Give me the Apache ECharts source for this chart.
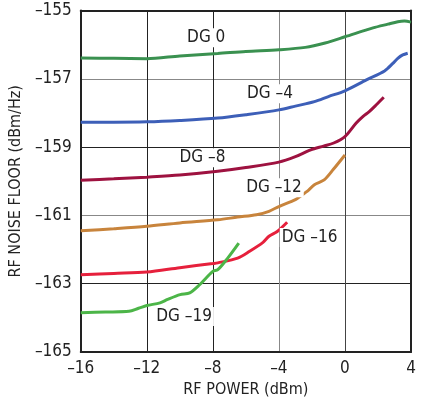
<!DOCTYPE html>
<html><head><meta charset="utf-8">
<script src="https://cdn.jsdelivr.net/npm/echarts@6/dist/echarts.min.js"></script>
<style>html,body{margin:0;padding:0;background:#fff}#c{width:424px;height:404px}</style>
</head><body><div id="c"></div>
<script>
const xTicks = [-16, -12, -8, -4, 0, 4];
const yTicks = [-165, -163, -161, -159, -157, -155];
const names = ['DG 0', 'DG –4', 'DG –8', 'DG –12', 'DG –16', 'DG –19'];
const colors = ['#3a9150', '#3d5fb8', '#9e1240', '#c8843c', '#e6203c', '#4cb548'];
const dg0 = [[-16,-156.39],[-14,-156.40],[-12,-156.41],[-10,-156.33],[-7.7,-156.26],[-6,-156.20],[-4,-156.15],[-2.4,-156.08],[-1.2,-155.95],[0,-155.77],[1.7,-155.51],[2.6,-155.40],[3.2,-155.33],[3.6,-155.31],[4,-155.34]];
const dg4 = [[-16,-158.27],[-14,-158.27],[-12,-158.26],[-10,-158.22],[-7.7,-158.15],[-6,-158.05],[-4,-157.91],[-3,-157.80],[-1.85,-157.67],[-1,-157.52],[0,-157.35],[1.3,-157.03],[2.4,-156.77],[2.9,-156.55],[3.2,-156.40],[3.5,-156.30],[3.8,-156.25]];
const dg8 = [[-16,-159.97],[-14,-159.93],[-12,-159.88],[-10,-159.82],[-7.7,-159.71],[-6,-159.60],[-4,-159.44],[-3,-159.28],[-2.07,-159.08],[-1.3,-158.97],[-0.68,-158.88],[0,-158.69],[0.67,-158.30],[1.1,-158.10],[1.47,-157.96],[1.9,-157.76],[2.35,-157.54]];
const dg12 = [[-16,-161.45],[-14,-161.39],[-12,-161.32],[-10,-161.22],[-7.7,-161.13],[-6.5,-161.05],[-5.36,-160.98],[-4.6,-160.88],[-4,-160.74],[-3.0,-160.54],[-2.7,-160.44],[-2.2,-160.26],[-1.85,-160.10],[-1.26,-159.96],[-0.7,-159.65],[0,-159.23]];
const dg16 = [[-16,-162.74],[-14,-162.70],[-12,-162.66],[-10,-162.53],[-8,-162.41],[-7.7,-162.39],[-6.5,-162.25],[-5.77,-162.05],[-4.96,-161.79],[-4.6,-161.61],[-4.1,-161.47],[-3.5,-161.20]];
const dg19 = [[-16,-163.85],[-14.5,-163.83],[-13.08,-163.81],[-12.5,-163.72],[-12,-163.64],[-11.2,-163.56],[-10.74,-163.46],[-9.98,-163.32],[-9.4,-163.27],[-8.8,-163.03],[-8,-162.64],[-7.7,-162.59],[-7.1,-162.25],[-6.43,-161.81]];
const labelPos = [[-8.4,-155.80],[-4.54,-157.44],[-8.63,-159.31],[-4.30,-160.19],[-2.14,-161.65],[-9.74,-163.96]];
const seriesData = [dg0, dg4, dg8, dg12, dg16, dg19];

const FONT = '"DejaVu Sans Condensed","Liberation Sans Narrow","Liberation Sans",sans-serif';
const fmt = v => String(v).replace('-', '–');
const edge = {show: true, onZero: false, lineStyle: {color: '#222', width: 2}};
const chart = echarts.init(document.getElementById('c'));
chart.setOption({
  animation: false,
  grid: {left: 70, right: 13, top: 10.5, bottom: 52},
  xAxis: [{
    type: 'value', min: xTicks[0], max: xTicks[xTicks.length-1], interval: 4,
    name: 'RF POWER (dBm)', nameLocation: 'middle', nameGap: 29,
    nameTextStyle: {fontFamily: FONT, fontSize: 16, color: '#222'},
    axisLine: edge, axisTick: {show: false},
    axisLabel: {formatter: fmt, fontFamily: FONT, fontSize: 17, color: '#222', margin: 8},
    splitLine: {show: true, lineStyle: {color: ['#222', '#222', '#222', '#888', '#444', '#222'], width: 1}}
  }, {
    type: 'value', position: 'top', min: xTicks[0], max: xTicks[xTicks.length-1], interval: 4,
    axisLine: edge, axisTick: {show: false}, axisLabel: {show: false}, splitLine: {show: false}
  }],
  yAxis: [{
    type: 'value', min: yTicks[0], max: yTicks[yTicks.length-1], interval: 2,
    name: 'RF NOISE FLOOR (dBm/Hz)', nameLocation: 'middle', nameGap: 52,
    nameTextStyle: {fontFamily: FONT, fontSize: 16, color: '#222'},
    axisLine: edge, axisTick: {show: false},
    axisLabel: {formatter: fmt, fontFamily: FONT, fontSize: 17, color: '#222', margin: 9},
    splitLine: {show: true, lineStyle: {color: ['#222', '#222', '#888', '#222', '#888', '#222'], width: 1}}
  }, {
    type: 'value', position: 'right', min: yTicks[0], max: yTicks[yTicks.length-1], interval: 2,
    axisLine: edge, axisTick: {show: false}, axisLabel: {show: false}, splitLine: {show: false}
  }],
  series: seriesData.map((d, i) => ({
    type: 'line', data: d, smooth: 0.3, showSymbol: false, z: 3,
    lineStyle: {color: colors[i], width: 3},
    markPoint: {
      symbol: 'rect', symbolSize: 1, itemStyle: {color: 'rgba(0,0,0,0)'},
      label: {show: true, position: 'inside', formatter: names[i], fontFamily: FONT, fontSize: 17, color: '#222',
        backgroundColor: '#fff', padding: [1, 2]},
      data: [{coord: labelPos[i]}]
    }
  }))
});
</script></body></html>
